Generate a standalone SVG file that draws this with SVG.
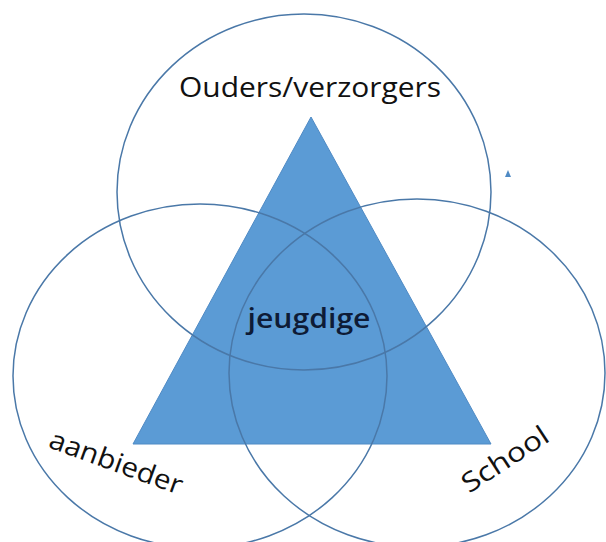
<svg xmlns="http://www.w3.org/2000/svg" width="606" height="542" viewBox="0 0 606 542">
<style>
.c{fill:none;stroke:#4A78A8;stroke-width:1.5}
.t{font-family:"Open Sans","Liberation Sans",sans-serif;font-size:27px;fill:#111}
</style>
<rect width="606" height="542" fill="#fff"/>
<g id="triangle"><polygon points="311,117 133,444 491,444" fill="#5B9BD5" stroke="#4F8AC4" stroke-width="1"/></g>
<g id="ouders"><ellipse class="c" cx="304" cy="192" rx="187" ry="178"/><text class="t" x="310" y="97" text-anchor="middle" textLength="262" lengthAdjust="spacingAndGlyphs">Ouders/verzorgers</text></g>
<g id="aanbieder"><ellipse class="c" cx="200" cy="376" rx="187" ry="172"/><text class="t" text-anchor="middle" textLength="140" lengthAdjust="spacingAndGlyphs" transform="translate(113,471) rotate(20)">aanbieder</text></g>
<g id="school"><ellipse class="c" cx="417" cy="373" rx="188" ry="174"/><text class="t" text-anchor="middle" textLength="98" lengthAdjust="spacingAndGlyphs" transform="translate(510,467) rotate(-33)">School</text></g>
<g id="jeugdige"><text class="t" x="309" y="328" text-anchor="middle" textLength="123" lengthAdjust="spacingAndGlyphs" style="font-weight:600;fill:#0E1B36">jeugdige</text></g>
<g id="marker"><polygon points="505,177 511,177 508,170" fill="#4F8AC4"/></g>
</svg>
